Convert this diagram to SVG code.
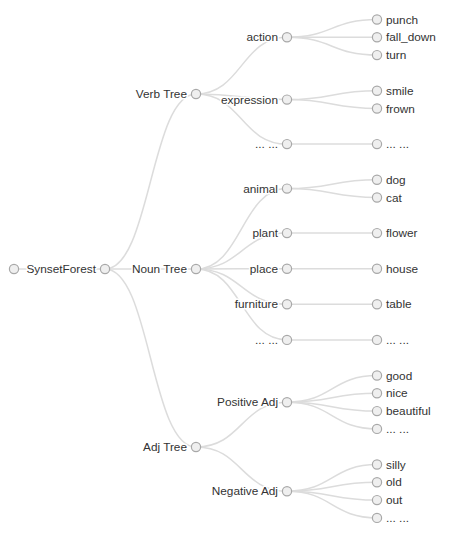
<svg xmlns="http://www.w3.org/2000/svg" width="451" height="548" viewBox="0 0 451 548">
<style>
.link{fill:none;stroke:#dcdcdc;stroke-width:1.5}
.node circle{fill:#efefef;stroke:#a8a8a8;stroke-width:1.2}
.node text{font-family:"Liberation Sans",Arial,sans-serif;font-size:11.8px;fill:#333;stroke:#fff;stroke-width:3;paint-order:stroke;stroke-linejoin:round}
.l text{text-anchor:end}
</style>
<rect width="451" height="548" fill="#fff"/>
<g id="links">
<path class="link" d="M14,269H105"/>
<path class="link" d="M105,269C150.5,269 150.5,94 196,94"/>
<path class="link" d="M105,269H196"/>
<path class="link" d="M105,269C150.5,269 150.5,447 196,447"/>
<path class="link" d="M196,94C241.5,94 241.5,37.3 287,37.3"/>
<path class="link" d="M196,94C241.5,94 241.5,99.6 287,99.6"/>
<path class="link" d="M196,94C241.5,94 241.5,144.1 287,144.1"/>
<path class="link" d="M196,269C241.5,269 241.5,188.6 287,188.6"/>
<path class="link" d="M196,269C241.5,269 241.5,233.1 287,233.1"/>
<path class="link" d="M196,269C241.5,269 241.5,268.7 287,268.7"/>
<path class="link" d="M196,269C241.5,269 241.5,304.3 287,304.3"/>
<path class="link" d="M196,269C241.5,269 241.5,339.9 287,339.9"/>
<path class="link" d="M196,447C241.5,447 241.5,402.2 287,402.2"/>
<path class="link" d="M196,447C241.5,447 241.5,491.2 287,491.2"/>
<path class="link" d="M287,37.3C332,37.3 332,19.5 377,19.5"/>
<path class="link" d="M287,37.3H377"/>
<path class="link" d="M287,37.3C332,37.3 332,55.1 377,55.1"/>
<path class="link" d="M287,99.6C332,99.6 332,90.7 377,90.7"/>
<path class="link" d="M287,99.6C332,99.6 332,108.5 377,108.5"/>
<path class="link" d="M287,144.1H377"/>
<path class="link" d="M287,188.6C332,188.6 332,179.7 377,179.7"/>
<path class="link" d="M287,188.6C332,188.6 332,197.5 377,197.5"/>
<path class="link" d="M287,233.1H377"/>
<path class="link" d="M287,268.7H377"/>
<path class="link" d="M287,304.3H377"/>
<path class="link" d="M287,339.9H377"/>
<path class="link" d="M287,402.2C332,402.2 332,375.5 377,375.5"/>
<path class="link" d="M287,402.2C332,402.2 332,393.3 377,393.3"/>
<path class="link" d="M287,402.2C332,402.2 332,411.1 377,411.1"/>
<path class="link" d="M287,402.2C332,402.2 332,428.9 377,428.9"/>
<path class="link" d="M287,491.2C332,491.2 332,464.5 377,464.5"/>
<path class="link" d="M287,491.2C332,491.2 332,482.3 377,482.3"/>
<path class="link" d="M287,491.2C332,491.2 332,500.1 377,500.1"/>
<path class="link" d="M287,491.2C332,491.2 332,517.9 377,517.9"/>
</g>
<g id="root" class="node l" transform="translate(14,269)"><circle r="4.6"/></g>
<g id="synsetforest" class="node l" transform="translate(105,269)"><circle r="4.6"/><text x="-9" dy="4">SynsetForest</text></g>
<g id="verbtree" class="node l" transform="translate(196,94)"><circle r="4.6"/><text x="-9" dy="4">Verb Tree</text></g>
<g id="nountree" class="node l" transform="translate(196,269)"><circle r="4.6"/><text x="-9" dy="4">Noun Tree</text></g>
<g id="adjtree" class="node l" transform="translate(196,447)"><circle r="4.6"/><text x="-9" dy="4">Adj Tree</text></g>
<g id="action" class="node l" transform="translate(287,37.3)"><circle r="4.6"/><text x="-9" dy="4">action</text></g>
<g id="expression" class="node l" transform="translate(287,99.6)"><circle r="4.6"/><text x="-9" dy="4">expression</text></g>
<g id="verb-more" class="node l" transform="translate(287,144.1)"><circle r="4.6"/><text x="-9" dy="4">... ...</text></g>
<g id="animal" class="node l" transform="translate(287,188.6)"><circle r="4.6"/><text x="-9" dy="4">animal</text></g>
<g id="plant" class="node l" transform="translate(287,233.1)"><circle r="4.6"/><text x="-9" dy="4">plant</text></g>
<g id="place" class="node l" transform="translate(287,268.7)"><circle r="4.6"/><text x="-9" dy="4">place</text></g>
<g id="furniture" class="node l" transform="translate(287,304.3)"><circle r="4.6"/><text x="-9" dy="4">furniture</text></g>
<g id="noun-more" class="node l" transform="translate(287,339.9)"><circle r="4.6"/><text x="-9" dy="4">... ...</text></g>
<g id="positiveadj" class="node l" transform="translate(287,402.2)"><circle r="4.6"/><text x="-9" dy="4">Positive Adj</text></g>
<g id="negativeadj" class="node l" transform="translate(287,491.2)"><circle r="4.6"/><text x="-9" dy="4">Negative Adj</text></g>
<g id="punch" class="node" transform="translate(377,19.5)"><circle r="4.6"/><text x="9" dy="4">punch</text></g>
<g id="fall_down" class="node" transform="translate(377,37.3)"><circle r="4.6"/><text x="9" dy="4">fall_down</text></g>
<g id="turn" class="node" transform="translate(377,55.1)"><circle r="4.6"/><text x="9" dy="4">turn</text></g>
<g id="smile" class="node" transform="translate(377,90.7)"><circle r="4.6"/><text x="9" dy="4">smile</text></g>
<g id="frown" class="node" transform="translate(377,108.5)"><circle r="4.6"/><text x="9" dy="4">frown</text></g>
<g id="verb-more-leaf" class="node" transform="translate(377,144.1)"><circle r="4.6"/><text x="9" dy="4">... ...</text></g>
<g id="dog" class="node" transform="translate(377,179.7)"><circle r="4.6"/><text x="9" dy="4">dog</text></g>
<g id="cat" class="node" transform="translate(377,197.5)"><circle r="4.6"/><text x="9" dy="4">cat</text></g>
<g id="flower" class="node" transform="translate(377,233.1)"><circle r="4.6"/><text x="9" dy="4">flower</text></g>
<g id="house" class="node" transform="translate(377,268.7)"><circle r="4.6"/><text x="9" dy="4">house</text></g>
<g id="table" class="node" transform="translate(377,304.3)"><circle r="4.6"/><text x="9" dy="4">table</text></g>
<g id="noun-more-leaf" class="node" transform="translate(377,339.9)"><circle r="4.6"/><text x="9" dy="4">... ...</text></g>
<g id="good" class="node" transform="translate(377,375.5)"><circle r="4.6"/><text x="9" dy="4">good</text></g>
<g id="nice" class="node" transform="translate(377,393.3)"><circle r="4.6"/><text x="9" dy="4">nice</text></g>
<g id="beautiful" class="node" transform="translate(377,411.1)"><circle r="4.6"/><text x="9" dy="4">beautiful</text></g>
<g id="pos-more" class="node" transform="translate(377,428.9)"><circle r="4.6"/><text x="9" dy="4">... ...</text></g>
<g id="silly" class="node" transform="translate(377,464.5)"><circle r="4.6"/><text x="9" dy="4">silly</text></g>
<g id="old" class="node" transform="translate(377,482.3)"><circle r="4.6"/><text x="9" dy="4">old</text></g>
<g id="out" class="node" transform="translate(377,500.1)"><circle r="4.6"/><text x="9" dy="4">out</text></g>
<g id="neg-more" class="node" transform="translate(377,517.9)"><circle r="4.6"/><text x="9" dy="4">... ...</text></g>
</svg>
